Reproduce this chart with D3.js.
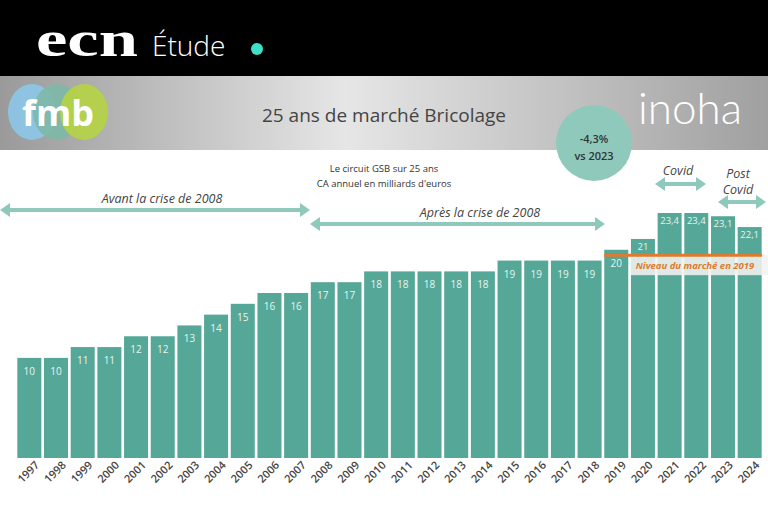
<!DOCTYPE html><html><head><meta charset="utf-8"><script src="https://cdn.jsdelivr.net/npm/d3@7"></script>
<style>body{margin:0}svg{display:block}</style></head><body><svg width="768" height="505"></svg><script>
const years=[1997,1998,1999,2000,2001,2002,2003,2004,2005,2006,2007,2008,2009,2010,2011,2012,2013,2014,2015,2016,2017,2018,2019,2020,2021,2022,2023,2024];
const values=[10,10,11,11,12,12,13,14,15,16,16,17,17,18,18,18,18,18,19,19,19,19,20,21,23.4,23.4,23.1,22.1];
const labels=["10","10","11","11","12","12","13","14","15","16","16","17","17","18","18","18","18","18","19","19","19","19","20","21","23,4","23,4","23,1","22,1"];
const level2019=19.5;
const svg=d3.select("svg");
const teal="#55a897", arrowC="#8fc9bb";
svg.append("rect").attr("width",768).attr("height",505).attr("fill","#fff");
svg.append("rect").attr("width",768).attr("height",76).attr("fill","#000");
const defs=svg.append("defs");
const g=defs.append("linearGradient").attr("id","gr");
[["0","#9a9a9a"],["0.45","#e6e6e6"],["1","#a0a0a0"]].forEach(s=>g.append("stop").attr("offset",s[0]).attr("stop-color",s[1]));
svg.append("rect").attr("y",76).attr("width",768).attr("height",74).attr("fill","url(#gr)");
svg.append("text").attr("x",36).attr("y",56).attr("fill","#fff").attr("font-family","Liberation Serif").attr("font-weight","bold").attr("font-size",50).attr("textLength",102).attr("lengthAdjust","spacingAndGlyphs").text("ecn");
svg.append("text").attr("x",152).attr("y",56).attr("fill","#fff").attr("font-family","Open Sans").attr("font-weight","300").attr("font-size",28).text("Étude");
svg.append("circle").attr("cx",257).attr("cy",49).attr("r",6).attr("fill","#3de0c8");
[[32,"#8cc6e6"],[57,"#7fb9a8"],[84,"#b5d245"]].forEach(c=>svg.append("ellipse").attr("cx",c[0]).attr("cy",112).attr("rx",24).attr("ry",28).attr("fill",c[1]).attr("opacity",0.92));
svg.append("text").attr("x",58).attr("y",126).attr("text-anchor","middle").attr("fill","#fff").attr("font-family","Open Sans").attr("font-weight","bold").attr("font-size",36).text("fmb");
svg.append("text").attr("x",384).attr("y",122).attr("text-anchor","middle").attr("fill","#444").attr("font-family","Open Sans").attr("font-size",19).text("25 ans de marché Bricolage");
svg.append("text").attr("x",690).attr("y",124).attr("text-anchor","middle").attr("fill","#fff").attr("font-family","Lato").attr("font-weight","300").attr("font-size",44).text("inoha");
svg.append("circle").attr("cx",594).attr("cy",143).attr("r",38).attr("fill","#8fc9bb");
svg.append("text").attr("x",594).attr("y",143).attr("text-anchor","middle").attr("fill","#333").attr("font-family","Open Sans").attr("font-weight","600").attr("font-size",11).text("-4,3%");
svg.append("text").attr("x",594).attr("y",160).attr("text-anchor","middle").attr("fill","#333").attr("font-family","Open Sans").attr("font-weight","600").attr("font-size",11).text("vs 2023");
svg.append("text").attr("x",384).attr("y",172).attr("text-anchor","middle").attr("fill","#333").attr("font-family","Open Sans").attr("font-size",9.5).text("Le circuit GSB sur 25 ans");
svg.append("text").attr("x",384).attr("y",187).attr("text-anchor","middle").attr("fill","#333").attr("font-family","Open Sans").attr("font-size",9.5).text("CA annuel en milliards d'euros");

const x=d3.scaleBand().domain(years).range([16,763]).paddingInner(0.1).paddingOuter(0.05);
const y=d3.scaleLinear().domain([0.74,23.4]).range([458,213]);
svg.selectAll(".bar").data(values).join("rect").attr("x",(d,i)=>x(years[i])).attr("width",x.bandwidth()).attr("y",d=>y(d)).attr("height",d=>458-y(d)).attr("fill",teal);
svg.selectAll(".lab").data(values).join("text").attr("x",(d,i)=>x(years[i])+x.bandwidth()/2).attr("y",(d,i)=>y(d)+(years[i]>=2020?11:17)).attr("text-anchor","middle").attr("fill","#e8f4f1").attr("font-family","Open Sans").attr("font-size",(d,i)=>years[i]>=2020?9.5:10).text((d,i)=>labels[i]);
const ly=y(level2019);
svg.append("rect").attr("x",x(2020)).attr("y",ly).attr("width",768-x(2020)).attr("height",20).attr("fill","#f2f2f2").attr("opacity",0.88);
svg.append("line").attr("x1",x(2019)).attr("x2",762).attr("y1",ly).attr("y2",ly).attr("stroke","#e07a2c").attr("stroke-width",3);
svg.append("text").attr("x",695).attr("y",ly+14).attr("text-anchor","middle").attr("fill","#e07a2c").attr("font-family","Open Sans").attr("font-style","italic").attr("font-weight","bold").attr("font-size",9.5).text("Niveau du marché en 2019");
const ax=svg.append("g").attr("transform","translate(0,458)").call(d3.axisBottom(x).tickSize(0).tickPadding(6));
ax.select(".domain").remove();
ax.selectAll("text").attr("font-family","Open Sans").attr("font-size",11).attr("font-weight","600").attr("fill","#444").attr("text-anchor","end").attr("transform","rotate(-45)").attr("dx","2").attr("dy","7");
function arrow(x1,x2,yy){
  svg.append("line").attr("x1",x1+8).attr("x2",x2-8).attr("y1",yy).attr("y2",yy).attr("stroke",arrowC).attr("stroke-width",4);
  svg.append("path").attr("d",`M${x1},${yy}L${x1+10},${yy-7}L${x1+10},${yy+7}Z`).attr("fill",arrowC);
  svg.append("path").attr("d",`M${x2},${yy}L${x2-10},${yy-7}L${x2-10},${yy+7}Z`).attr("fill",arrowC);
}
arrow(0,310,210);arrow(310,605,224);arrow(655,706,184);arrow(718,766,202);
const it=(t,xx,yy)=>svg.append("text").attr("x",xx).attr("y",yy).attr("text-anchor","middle").attr("fill","#444").attr("font-family","Open Sans").attr("font-style","italic").attr("font-size",12.5).text(t);
it("Avant la crise de 2008",162,203);it("Après la crise de 2008",480,217);it("Covid",678,175);it("Post",738,178);it("Covid",738,194);
</script></body></html>
